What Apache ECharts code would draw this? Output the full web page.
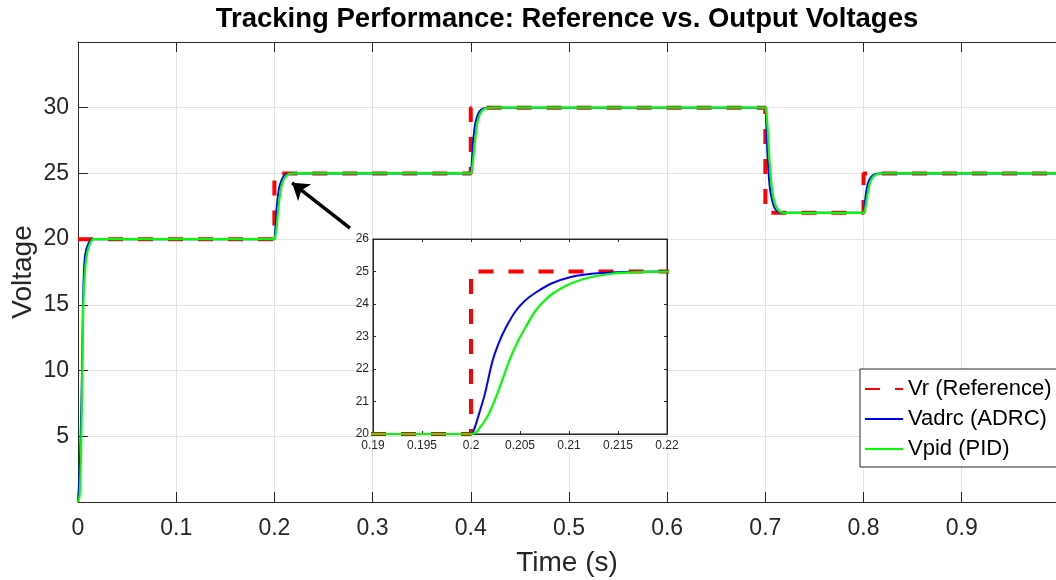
<!DOCTYPE html>
<html>
<head>
<meta charset="utf-8">
<script src="https://cdn.jsdelivr.net/npm/echarts@6/dist/echarts.min.js"></script>
<style>
  html, body { margin: 0; padding: 0; background: #fff; }
  #chart { width: 1056px; height: 580px; }
</style>
</head>
<body>
<div id="chart"></div>
<script>
// reference voltage (step profile)
const refPoints = [
  [0, 20], [0.2, 20], [0.2, 25], [0.4, 25], [0.4, 30],
  [0.7, 30], [0.7, 22], [0.8, 22], [0.8, 25], [1, 25]
];

// ADRC output
const adrcPoints = [
  [0, 0], [0.0014, 2], [0.0027, 5], [0.0041, 10], [0.0051, 15], [0.0061, 17.6],
  [0.0075, 18.9], [0.0102, 19.6], [0.015, 20],
  [0.2, 20], [0.2003, 20.13], [0.20085, 20.65], [0.20143, 21.25], [0.2022, 22.25],
  [0.2029, 22.85], [0.2036, 23.3], [0.2046, 23.8], [0.2055, 24.1], [0.2065, 24.33],
  [0.2082, 24.63], [0.2102, 24.83], [0.2123, 24.93], [0.215, 24.98], [0.22, 25],
  [0.4, 25], [0.40085, 25.65], [0.40143, 26.25], [0.4022, 27.25], [0.4036, 28.3],
  [0.4046, 28.8], [0.4065, 29.33], [0.4082, 29.63], [0.4102, 29.83], [0.4123, 29.93],
  [0.415, 29.98], [0.42, 30],
  [0.7, 30], [0.70085, 28.96], [0.70143, 28], [0.7022, 26.4], [0.7036, 24.72],
  [0.7046, 23.92], [0.7065, 23.08], [0.7082, 22.6], [0.7102, 22.28], [0.7123, 22.12],
  [0.715, 22.04], [0.72, 22],
  [0.8, 22], [0.80085, 22.39], [0.80143, 22.75], [0.8022, 23.35], [0.8036, 23.98],
  [0.8046, 24.28], [0.8065, 24.6], [0.8082, 24.78], [0.8102, 24.9], [0.8123, 24.96],
  [0.815, 24.99], [0.82, 25], [1, 25]
];

// PID output
const pidPoints = [
  [0, 0], [0.0017, 0.5], [0.0034, 5], [0.0044, 10], [0.0054, 15], [0.0071, 17.6],
  [0.0092, 18.9], [0.0119, 19.6], [0.016, 20],
  [0.2, 20], [0.2005, 20.05], [0.20085, 20.18], [0.2014, 20.4], [0.202, 20.73],
  [0.2027, 21.25], [0.2033, 21.75], [0.2039, 22.25], [0.2047, 22.8], [0.2056, 23.3],
  [0.2066, 23.8], [0.2075, 24.1], [0.2084, 24.33], [0.2102, 24.63], [0.2123, 24.83],
  [0.2143, 24.93], [0.217, 24.98], [0.222, 25],
  [0.4, 25], [0.40085, 25.18], [0.4014, 25.4], [0.4027, 26.25], [0.4039, 27.25],
  [0.4056, 28.3], [0.4066, 28.8], [0.4084, 29.33], [0.4102, 29.63], [0.4123, 29.83],
  [0.4143, 29.93], [0.417, 29.98], [0.422, 30],
  [0.7, 30], [0.70085, 29.72], [0.7014, 29.36], [0.7027, 28], [0.7039, 26.4],
  [0.7056, 24.72], [0.7066, 23.92], [0.7084, 23.08], [0.7102, 22.6], [0.7123, 22.28],
  [0.7143, 22.12], [0.717, 22.04], [0.722, 22],
  [0.8, 22], [0.80085, 22.1], [0.8014, 22.24], [0.8027, 22.75], [0.8039, 23.35],
  [0.8056, 23.98], [0.8066, 24.28], [0.8084, 24.6], [0.8102, 24.78], [0.8123, 24.9],
  [0.8143, 24.96], [0.817, 24.99], [0.822, 25], [1, 25]
];

// annotation arrow (data coords): tail -> head
const arrowCoords = [[0.277, 20.84], [0.218, 24.29]];

const seriesNames = ['Vr (Reference)', 'Vadrc (ADRC)', 'Vpid (PID)'];
const titleText = 'Tracking Performance: Reference vs. Output Voltages';

// visible time window: the right edge of the figure is cut just before t = 1
const timeMin = 0;
const timeMax = 0.996;

const FONT = '"Liberation Sans", Arial, Helvetica, sans-serif';
const AX = '#262626';
const GRIDLINE = '#e3e3e3';

const chart = echarts.init(document.getElementById('chart'), null, { renderer: 'canvas' });

function makeLines(xIdx, yIdx, z) {
  return [
    {
      name: seriesNames[0], type: 'line', xAxisIndex: xIdx, yAxisIndex: yIdx, z: z,
      data: refPoints, symbol: 'none', animation: false,
      lineStyle: { color: '#ff0000', width: 4, type: [15, 15], cap: 'butt' },
      itemStyle: { color: '#ff0000' }
    },
    {
      name: seriesNames[1], type: 'line', xAxisIndex: xIdx, yAxisIndex: yIdx, z: z,
      data: adrcPoints, symbol: 'none', animation: false,
      smooth: 0.35,
      lineStyle: { color: '#0000ff', width: 2 },
      itemStyle: { color: '#0000ff' }
    },
    {
      name: seriesNames[2], type: 'line', xAxisIndex: xIdx, yAxisIndex: yIdx, z: z,
      data: pidPoints, symbol: 'none', animation: false,
      smooth: 0.35,
      lineStyle: { color: '#00ff00', width: 2.2 },
      itemStyle: { color: '#00ff00' }
    }
  ];
}

const option = {
  animation: false,
  backgroundColor: '#fff',
  textStyle: { fontFamily: FONT },
  graphic: [
    {
      type: 'text', x: 567, y: 19, z: 30,
      style: {
        text: titleText, align: 'center', verticalAlign: 'middle',
        fontFamily: FONT, fontWeight: 'bold', fontSize: 27.5, fill: '#000'
      }
    }
  ],
  legend: {
    data: seriesNames,
    orient: 'vertical',
    left: 860, top: 369,
    itemWidth: 38, itemHeight: 20, itemGap: 8,
    padding: [9, 40, 7, 4],
    backgroundColor: '#fff',
    borderColor: AX, borderWidth: 1, borderRadius: 0,
    itemStyle: { opacity: 0 },
    textStyle: { fontFamily: FONT, fontSize: 22, color: '#000', lineHeight: 20 },
    z: 20
  },
  grid: [
    { left: 78, right: 0, top: 42, bottom: 78, outerBoundsMode: 'none', containLabel: false },
    {
      left: 373, top: 239, width: 294, height: 195, z: 5, outerBoundsMode: 'none',
      show: true, backgroundColor: '#fff', borderColor: AX, borderWidth: 1
    }
  ],
  xAxis: [
    {
      type: 'value', gridIndex: 0, min: timeMin, max: timeMax, interval: 0.1,
      axisLine: { lineStyle: { color: AX, width: 1 } },
      axisTick: { inside: true, length: 10, lineStyle: { color: AX } },
      axisLabel: {
        fontSize: 23, color: AX, margin: 15, fontFamily: FONT,
        formatter: v => (v > 0.95 ? '' : String(+v.toFixed(1)))
      },
      splitLine: { show: true, lineStyle: { color: GRIDLINE, width: 1 } },
      name: 'Time (s)', nameLocation: 'middle', nameGap: 47,
      nameTextStyle: { fontSize: 28, color: AX, fontFamily: FONT }
    },
    {
      type: 'value', gridIndex: 0, position: 'top', min: timeMin, max: timeMax, interval: 0.1,
      axisLine: { lineStyle: { color: AX, width: 1 } },
      axisTick: { inside: true, length: 10, lineStyle: { color: AX } },
      axisLabel: { show: false },
      splitLine: { show: false }
    },
    {
      type: 'value', gridIndex: 1, min: 0.19, max: 0.22, interval: 0.005, z: 6,
      axisLine: { lineStyle: { color: AX, width: 1 } },
      axisTick: { inside: true, length: 3, lineStyle: { color: AX } },
      axisLabel: {
        fontSize: 12, color: AX, margin: 6, fontFamily: FONT,
        formatter: v => String(+v.toFixed(3))
      },
      splitLine: { show: false }
    },
    {
      type: 'value', gridIndex: 1, position: 'top', min: 0.19, max: 0.22, interval: 0.005, z: 6,
      axisLine: { lineStyle: { color: AX, width: 1 } },
      axisTick: { inside: true, length: 3, lineStyle: { color: AX } },
      axisLabel: { show: false },
      splitLine: { show: false }
    }
  ],
  yAxis: [
    {
      type: 'value', gridIndex: 0, min: 0, max: 35, interval: 5,
      axisLine: { show: true, lineStyle: { color: AX, width: 1 } },
      axisTick: { show: true, inside: true, length: 10, lineStyle: { color: AX } },
      axisLabel: {
        fontSize: 23, color: AX, margin: 9, fontFamily: FONT,
        formatter: v => (v === 0 || v === 35 ? '' : String(v))
      },
      splitLine: { show: true, lineStyle: { color: GRIDLINE, width: 1 } },
      name: 'Voltage', nameLocation: 'middle', nameGap: 41, nameMoveOverlap: false,
      nameTextStyle: { fontSize: 28, color: AX, fontFamily: FONT }
    },
    {
      type: 'value', gridIndex: 1, min: 20, max: 26, interval: 1, z: 6,
      axisLine: { show: true, lineStyle: { color: AX, width: 1 } },
      axisTick: { show: true, inside: true, length: 3, lineStyle: { color: AX } },
      axisLabel: { fontSize: 12, color: AX, margin: 4, fontFamily: FONT },
      splitLine: { show: false }
    },
    {
      type: 'value', gridIndex: 1, position: 'right', min: 20, max: 26, interval: 1, z: 6,
      axisLine: { show: true, lineStyle: { color: AX, width: 1 } },
      axisTick: { show: true, inside: true, length: 3, lineStyle: { color: AX } },
      axisLabel: { show: false },
      splitLine: { show: false }
    }
  ],
  series: [
    ...makeLines(0, 0, 2),
    {
      type: 'lines', coordinateSystem: 'cartesian2d', xAxisIndex: 0, yAxisIndex: 0, z: 4,
      symbol: ['none', 'arrow'], symbolSize: 16,
      lineStyle: { color: '#000', width: 3.5, opacity: 1, curveness: 0 },
      data: [{ coords: arrowCoords }],
      animation: false
    },
    ...makeLines(2, 1, 7)
  ]
};

chart.setOption(option);
</script>
</body>
</html>
